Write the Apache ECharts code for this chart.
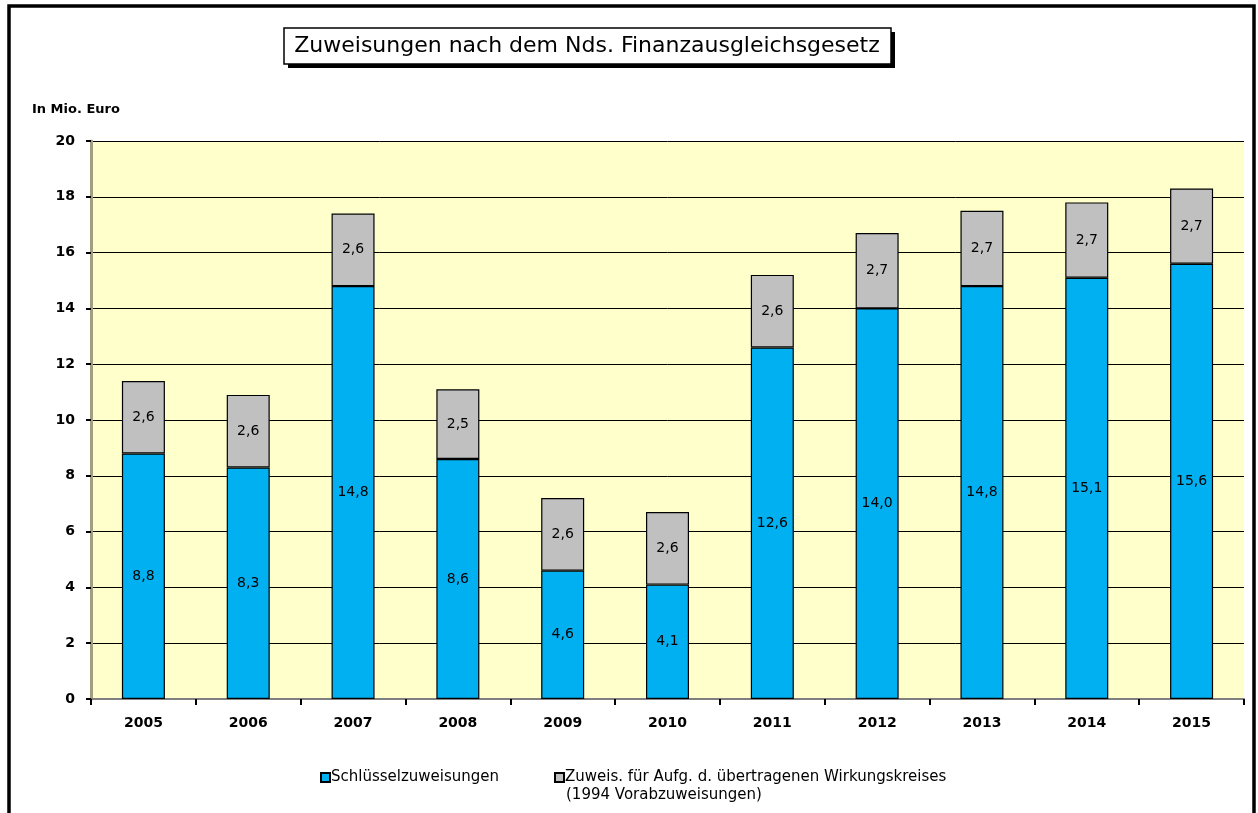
<!DOCTYPE html>
<html>
<head>
<meta charset="utf-8">
<script src="https://cdn.jsdelivr.net/npm/echarts@6/dist/echarts.min.js"></script>
<style>
html,body{margin:0;padding:0;background:#fff;}
#c{width:1258px;height:813px;}
</style>
</head>
<body>
<div id="c"></div>
<script>
const years = ['2005','2006','2007','2008','2009','2010','2011','2012','2013','2014','2015'];
const schluessel = [8.8, 8.3, 14.8, 8.6, 4.6, 4.1, 12.6, 14.0, 14.8, 15.1, 15.6];
const zuweis = [2.6, 2.6, 2.6, 2.5, 2.6, 2.6, 2.6, 2.7, 2.7, 2.7, 2.7];
const seriesNames = ['Schlüsselzuweisungen', 'Zuweis. für Aufg. d. übertragenen Wirkungskreises'];
const title = 'Zuweisungen nach dem Nds. Finanzausgleichsgesetz';
const unitLabel = 'In Mio. Euro';
const legendLine2 = '(1994 Vorabzuweisungen)';

const chart = echarts.init(document.getElementById('c'), null, {renderer: 'canvas'});
const fmt = p => p.value.toFixed(1).replace('.', ',');
const FONT = '"DejaVu Sans", Arial, sans-serif';

chart.setOption({
  animation: false,
  backgroundColor: '#fff',
  grid: {left: 91, right: 14, top: 141, bottom: 114, show: true, backgroundColor: '#FFFFCC', borderWidth: 0},
  xAxis: {
    type: 'category',
    data: years,
    axisLine: {show: true, lineStyle: {color: '#808080', width: 2}},
    axisTick: {show: true, length: 6, lineStyle: {color: '#000', width: 2}},
    axisLabel: {color: '#000', fontFamily: FONT, fontWeight: 'bold', fontSize: 14, margin: 17}
  },
  yAxis: {
    type: 'value', min: 0, max: 20, interval: 2,
    axisLine: {show: true, lineStyle: {color: '#A0A080', width: 3}},
    axisTick: {show: true, length: 5, lineStyle: {color: '#000', width: 2}},
    axisLabel: {color: '#000', fontFamily: FONT, fontWeight: 'bold', fontSize: 14, margin: 16},
    splitLine: {show: true, lineStyle: {color: '#000', width: 1}}
  },
  legend: [
    {data: [seriesNames[0]], left: 315, top: 765, icon: 'rect', itemWidth: 9, itemHeight: 9, itemGap: 0,
     textStyle: {fontFamily: FONT, fontSize: 15, color: '#000', padding: [0,0,0,-4]}, selectedMode: false},
    {data: [seriesNames[1]], left: 549, top: 765, icon: 'rect', itemWidth: 9, itemHeight: 9, itemGap: 0,
     textStyle: {fontFamily: FONT, fontSize: 15, color: '#000', padding: [0,0,0,-4]}, selectedMode: false}
  ],
  series: [
    {
      name: seriesNames[0], type: 'bar', stack: 'total', data: schluessel, barWidth: 43,
      itemStyle: {color: '#00B0F0', borderColor: '#000', borderWidth: 1.2},
      label: {show: true, position: 'inside', formatter: fmt, color: '#000', fontFamily: FONT, fontSize: 14}
    },
    {
      name: seriesNames[1], type: 'bar', stack: 'total', data: zuweis, barWidth: 43,
      itemStyle: {color: '#C0C0C0', borderColor: '#000', borderWidth: 1.2},
      label: {show: true, position: 'inside', formatter: fmt, color: '#000', fontFamily: FONT, fontSize: 14}
    }
  ],
  graphic: [
    {type: 'polyline', shape: {points: [[9, 830], [9, 6], [1254, 6], [1254, 830]]},
     style: {stroke: '#000', lineWidth: 3.5, fill: null}, z: 100},
    {type: 'rect', shape: {x: 288, y: 32, width: 607, height: 36}, style: {fill: '#000'}, z: 100},
    {type: 'rect', shape: {x: 284, y: 28, width: 607, height: 36}, style: {fill: '#fff', stroke: '#000', lineWidth: 1.5}, z: 101},
    {type: 'text', x: 587, y: 46, style: {text: title, fill: '#000', font: '22px "DejaVu Sans", sans-serif', align: 'center', verticalAlign: 'middle'}, z: 102},
    {type: 'text', x: 32, y: 110, style: {text: unitLabel, fill: '#000', font: 'bold 13px "DejaVu Sans", sans-serif', align: 'left', verticalAlign: 'middle'}, z: 102},
    {type: 'text', x: 566, y: 795, style: {text: legendLine2, fill: '#000', font: '15px "DejaVu Sans", sans-serif', align: 'left', verticalAlign: 'middle'}, z: 102}
  ]
});
</script>
</body>
</html>
